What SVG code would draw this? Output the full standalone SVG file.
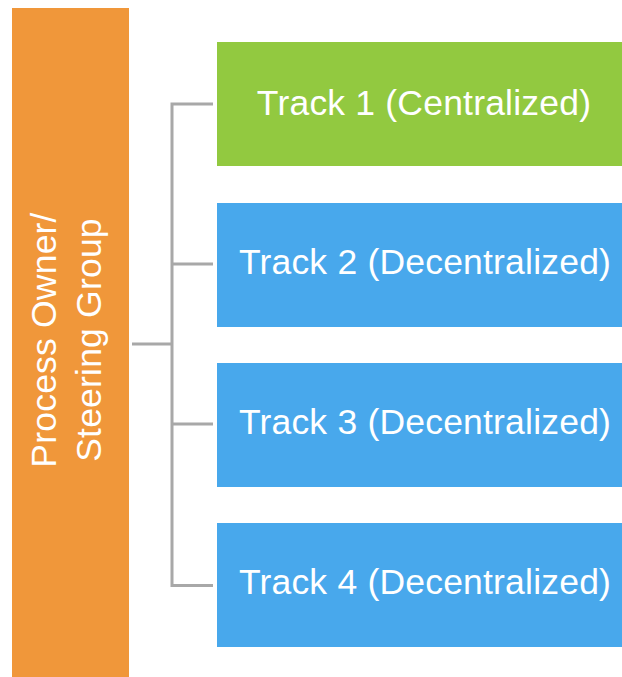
<svg xmlns="http://www.w3.org/2000/svg" width="622" height="677" viewBox="0 0 622 677">
<style>
.lbl{font-family:"Liberation Sans",Arial,Helvetica,sans-serif;font-size:35.5px;letter-spacing:0.2px;fill:#ffffff;text-anchor:middle}
.conn{stroke:#A8A8A8;stroke-width:3;fill:none}
</style>
<rect width="622" height="677" fill="#ffffff"/>
<g id="connectors">
<path class="conn" d="M132,344 H172 M213,104 H172 V585.5 H213 M172,264 H213 M172,424 H213"/>
</g>
<g id="owner">
<rect x="12" y="8" width="117" height="669" fill="#F0973A"/>
<text class="lbl" transform="translate(56,340) rotate(-90)"><tspan x="0" y="0">Process Owner/</tspan><tspan x="0" y="45">Steering Group</tspan></text>
</g>
<g id="track1">
<rect x="217" y="42" width="405" height="124" fill="#92C940"/>
<text class="lbl" x="424" y="115">Track 1 (Centralized)</text>
</g>
<g id="track2">
<rect x="217" y="203" width="405" height="124" fill="#48A8EC"/>
<text class="lbl" x="425" y="274">Track 2 (Decentralized)</text>
</g>
<g id="track3">
<rect x="217" y="363" width="405" height="124" fill="#48A8EC"/>
<text class="lbl" x="425" y="434">Track 3 (Decentralized)</text>
</g>
<g id="track4">
<rect x="217" y="523" width="405" height="124" fill="#48A8EC"/>
<text class="lbl" x="425" y="594">Track 4 (Decentralized)</text>
</g>
</svg>
